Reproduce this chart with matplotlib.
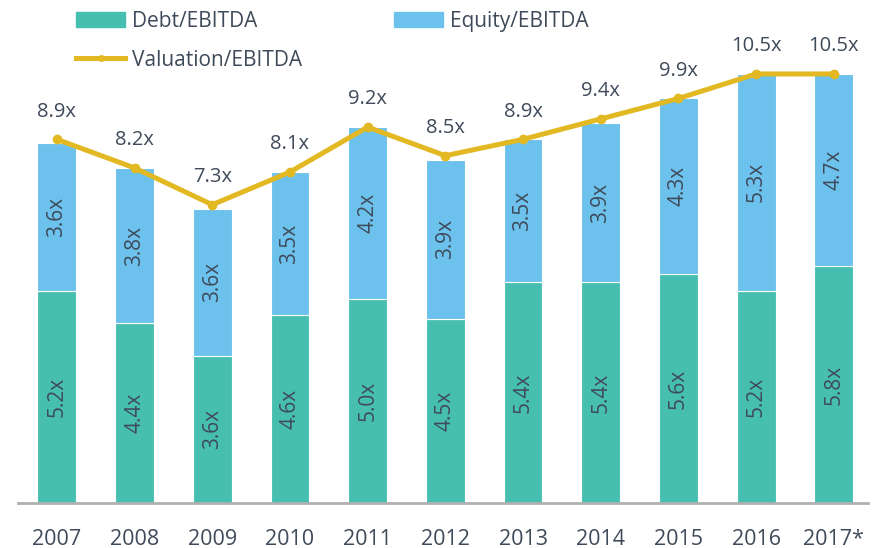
import matplotlib
matplotlib.use("Agg")
import matplotlib.pyplot as plt
from matplotlib.patches import Patch
from matplotlib.lines import Line2D
import numpy as np

years = ["2007", "2008", "2009", "2010", "2011", "2012", "2013", "2014", "2015", "2016", "2017*"]
debt = [5.2, 4.4, 3.6, 4.6, 5.0, 4.5, 5.4, 5.4, 5.6, 5.2, 5.8]
equity = [3.6, 3.8, 3.6, 3.5, 4.2, 3.9, 3.5, 3.9, 4.3, 5.3, 4.7]
valuation = [8.9, 8.2, 7.3, 8.1, 9.2, 8.5, 8.9, 9.4, 9.9, 10.5, 10.5]

plt.rcParams['font.family'] = ['Open Sans', 'DejaVu Sans']

C_DEBT = "#47BFB0"
C_EQ = "#6CC2EC"
C_VAL = "#E2B922"
C_TXT = "#3F4A5A"

W, H = 879, 548
fig = plt.figure(figsize=(W / 100, H / 100), dpi=100)
ax = fig.add_axes([18 / W, 1 - 503 / H, 850 / W, 503 / H])

x = np.arange(len(years))
bw = 0.5
ax.bar(x, debt, bw, color=C_DEBT, edgecolor="white", linewidth=0.8, zorder=2)
ax.bar(x, equity, bw, bottom=debt, color=C_EQ, edgecolor="white", linewidth=0.8, zorder=2)
ax.plot(x, valuation, color=C_VAL, lw=3.6, marker="o", ms=6, zorder=3, solid_capstyle="round")

for i in range(len(years)):
    ax.text(x[i], debt[i] / 2, f"{debt[i]:.1f}x", rotation=90, ha="center", va="center",
            color=C_TXT, fontsize=15, zorder=4)
    ax.text(x[i], debt[i] + equity[i] / 2, f"{equity[i]:.1f}x", rotation=90, ha="center",
            va="center", color=C_TXT, fontsize=15, zorder=4)
    ax.annotate(f"{valuation[i]:.1f}x", (x[i], valuation[i]), xytext=(0, 20),
                textcoords="offset points", ha="center", va="center", color=C_TXT,
                fontsize=14.5, zorder=4)

ax.set_xlim(-0.5, 10.44)
ax.set_ylim(0, 12.31)
ax.set_xticks(x)
ax.set_xticklabels(years, fontsize=15.5, color=C_TXT)
ax.tick_params(axis="x", length=0, pad=18.5)
ax.set_yticks([])
for s in ["top", "right", "left"]:
    ax.spines[s].set_visible(False)
ax.spines["bottom"].set_color("#B0B0B0")
ax.spines["bottom"].set_linewidth(2)

handles = [Patch(color=C_DEBT), Line2D([0], [0], color=C_VAL, lw=3.6, marker="o", ms=4),
           Patch(color=C_EQ)]
labels = ["Debt/EBITDA", "Valuation/EBITDA", "Equity/EBITDA"]
fig.legend(handles, labels, ncol=2, loc="upper left", bbox_to_anchor=(76 / W, 1 - 11 / H),
           frameon=False, fontsize=15, labelcolor=C_TXT, handlelength=2.36, handleheight=0.72,
           columnspacing=4.4, handletextpad=0.34, labelspacing=0.85, borderaxespad=0.0,
           borderpad=0.0)

fig.savefig("out.png", dpi=100)
